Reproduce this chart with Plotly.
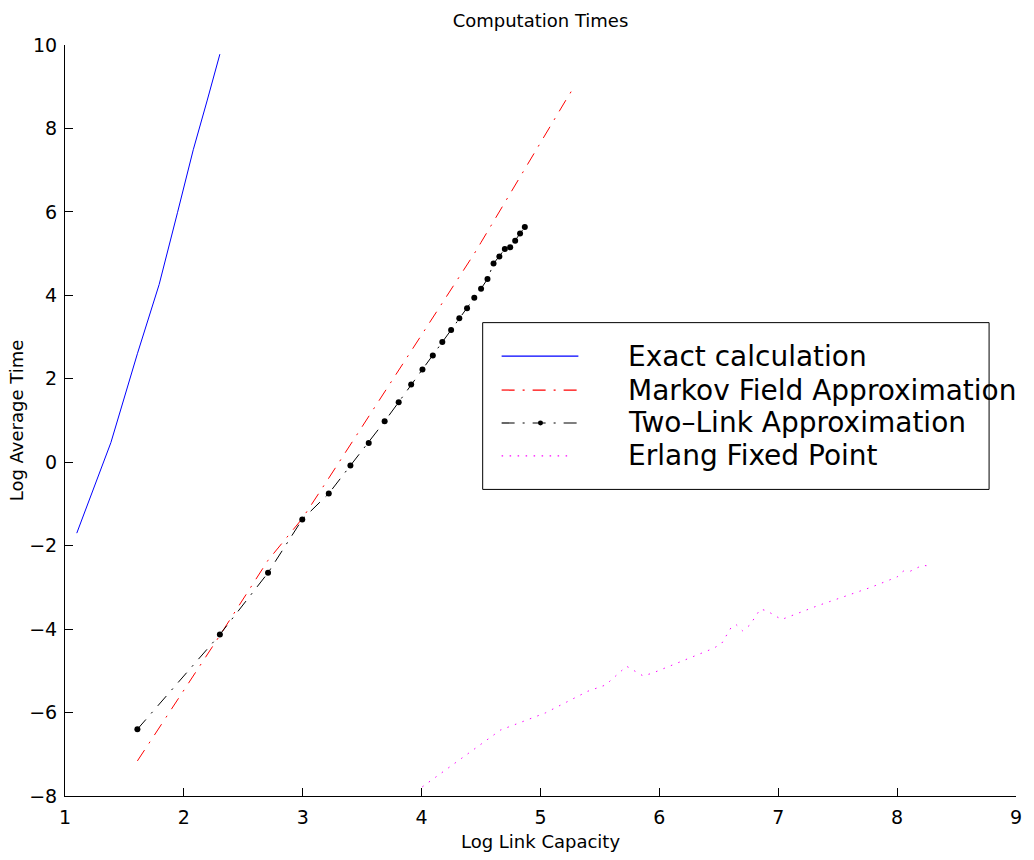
import plotly.graph_objects as go

# ---------------- data ----------------
exact_log_capacity = [1.099, 1.386, 1.609, 1.792, 1.946, 2.079, 2.197, 2.303]
exact_log_time = [-1.70, 0.47, 2.60, 4.26, 5.98, 7.49, 8.68, 9.78]

markov_log_capacity = [1.609, 2.303, 2.708, 2.996, 3.219, 3.401, 3.555, 3.689, 3.807, 3.912,
                       4.007, 4.094, 4.174, 4.248, 4.317, 4.382, 4.443, 4.500, 4.554, 4.605,
                       4.654, 4.700, 4.745, 4.787, 4.828, 4.868, 4.905, 4.942, 4.977, 5.011,
                       5.043, 5.075, 5.106, 5.136, 5.165, 5.193, 5.220, 5.247, 5.273]
markov_log_time = [-7.16, -4.15, -2.35, -1.35, -0.38, 0.42, 1.09, 1.68, 2.19, 2.65,
                   3.07, 3.45, 3.80, 4.12, 4.42, 4.71, 5.00, 5.27, 5.53, 5.77,
                   6.01, 6.23, 6.44, 6.64, 6.84, 7.03, 7.20, 7.38, 7.55, 7.71,
                   7.86, 8.02, 8.16, 8.31, 8.44, 8.58, 8.71, 8.83, 8.96]

twolink_log_capacity = [1.609, 2.303, 2.708, 2.996, 3.219, 3.401, 3.555, 3.689, 3.807, 3.912,
                        4.007, 4.094, 4.174, 4.248, 4.317, 4.382, 4.443, 4.500, 4.554, 4.605,
                        4.654, 4.700, 4.745, 4.787, 4.828, 4.868]
twolink_log_time = [-6.40, -4.13, -2.65, -1.37, -0.75, -0.08, 0.46, 0.98, 1.44, 1.86,
                    2.22, 2.56, 2.88, 3.17, 3.45, 3.69, 3.94, 4.16, 4.39, 4.76,
                    4.93, 5.11, 5.15, 5.31, 5.48, 5.64]

erlang_log_capacity = [4.006, 4.663, 5.040, 5.397, 5.547, 5.724, 5.862, 5.937, 6.456, 6.525,
                       6.606, 6.645, 6.699, 6.762, 6.849, 6.903, 7.028, 7.331, 7.778, 8.000,
                       8.051, 8.105, 8.213, 8.276]
erlang_log_time = [-7.78, -6.42, -6.01, -5.49, -5.34, -4.89, -5.12, -5.06, -4.46, -4.34,
                   -3.95, -3.89, -4.04, -3.90, -3.52, -3.56, -3.77, -3.44, -3.00, -2.75,
                   -2.61, -2.62, -2.47, -2.49]

series_names = ["Exact calculation", "Markov Field Approximation",
                "Two\u2013Link Approximation", "Erlang Fixed Point"]
series_colors = ["#0000ff", "#ff0000", "#000000", "#ff00ff"]
x_ticks = [1, 2, 3, 4, 5, 6, 7, 8, 9]
y_ticks = [-8, -6, -4, -2, 0, 2, 4, 6, 8, 10]

# ---------------- styles ----------------
FONT = "DejaVu Sans, Verdana, sans-serif"
DASHDOT = "13px,8px,2px,8px"
DOTTED = "1.5px,6.5px"
dashes = ["solid", DASHDOT, DASHDOT, DOTTED]
W, H = 1034, 860
ML, MR, MT, MB = 65, 15, 45, 63

fig = go.Figure()
fig.add_trace(go.Scatter(x=exact_log_capacity, y=exact_log_time, mode="lines",
                         line=dict(color=series_colors[0], width=1), name=series_names[0],
                         showlegend=False))
fig.add_trace(go.Scatter(x=markov_log_capacity, y=markov_log_time, mode="lines",
                         line=dict(color=series_colors[1], width=1, dash=DASHDOT),
                         name=series_names[1], showlegend=False))
fig.add_trace(go.Scatter(x=twolink_log_capacity, y=twolink_log_time, mode="lines+markers",
                         line=dict(color=series_colors[2], width=1, dash=DASHDOT),
                         marker=dict(color=series_colors[2], size=6), name=series_names[2],
                         showlegend=False))
fig.add_trace(go.Scatter(x=erlang_log_capacity, y=erlang_log_time, mode="lines",
                         line=dict(color=series_colors[3], width=1, dash=DOTTED),
                         name=series_names[3], showlegend=False))

# ---------------- hand-drawn legend (text overflows box as in reference) ----------------
pw, ph = W - ML - MR, H - MT - MB


def px_x(p):
    return (p - ML) / pw


def px_y(p):
    return (H - MB - p) / ph


shapes = [dict(type="rect", xref="paper", yref="paper",
               x0=px_x(484), x1=px_x(992), y0=px_y(490), y1=px_y(323),
               line=dict(color="black", width=1), fillcolor="white", layer="above")]
rows = [356.5, 390.5, 423.5, 456.5]
ends = [580, 580, 580, 570]
annotations = []
for r, c, d, e, name in zip(rows, series_colors, dashes, ends, series_names):
    shapes.append(dict(type="line", xref="paper", yref="paper",
                       x0=px_x(503), x1=px_x(e), y0=px_y(r), y1=px_y(r),
                       line=dict(color=c, width=1.2, dash=d), layer="above"))
    annotations.append(dict(xref="paper", yref="paper", x=px_x(628), y=px_y(r),
                            text=name, showarrow=False, xanchor="left", yanchor="middle",
                            font=dict(family=FONT, size=28, color="black")))
# marker on the Two-Link legend sample
shapes.append(dict(type="circle", xref="paper", yref="paper",
                   x0=px_x(539.5), x1=px_x(544.5), y0=px_y(rows[2] + 2.5), y1=px_y(rows[2] - 2.5),
                   fillcolor="black", line=dict(color="black", width=0), layer="above"))

fig.update_layout(
    width=W, height=H,
    margin=dict(l=ML, r=MR, t=MT, b=MB),
    paper_bgcolor="white", plot_bgcolor="white",
    font=dict(family=FONT, size=18, color="black"),
    title=dict(text="Computation Times", x=0.5, xanchor="center", xref="paper",
               y=1 - 21 / H, yanchor="middle", font=dict(family=FONT, size=18)),
    xaxis=dict(range=[1, 9], tickvals=x_ticks, ticks="inside", ticklen=8, tickcolor="black",
               showline=True, linecolor="black", linewidth=1, showgrid=False, zeroline=False,
               ticklabelstandoff=4,
               title=dict(text="Log Link Capacity", font=dict(size=18), standoff=8),
               tickfont=dict(size=19)),
    yaxis=dict(range=[-8, 10], tickvals=y_ticks, ticks="inside", ticklen=8, tickcolor="black",
               showline=True, linecolor="black", linewidth=1, showgrid=False, zeroline=False,
               ticklabelstandoff=3,
               title=dict(text="Log Average Time", font=dict(size=18), standoff=0),
               tickfont=dict(size=19)),
    shapes=shapes,
    annotations=annotations,
)

fig.write_html("out.html")
